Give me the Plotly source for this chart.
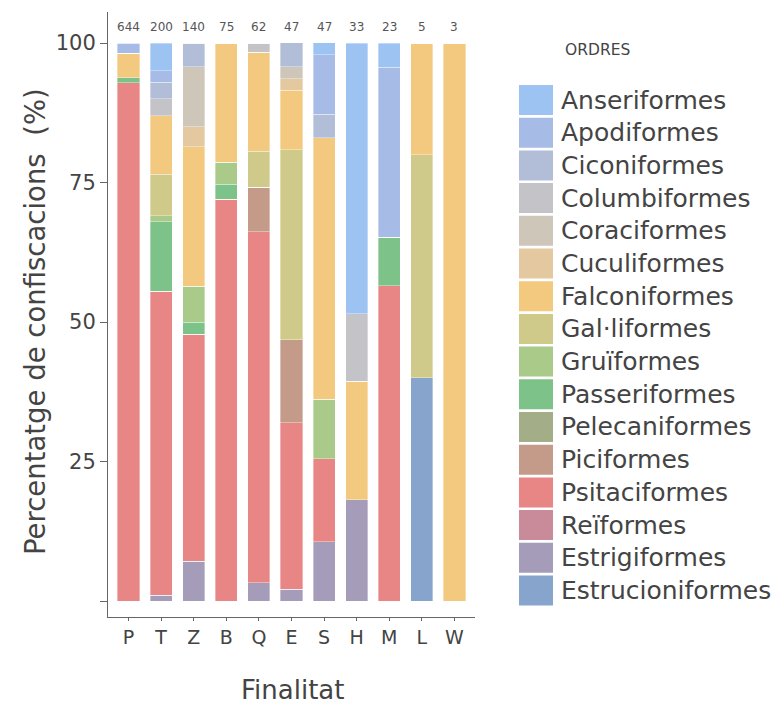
import plotly.graph_objects as go

categories = ["P", "T", "Z", "B", "Q", "E", "S", "H", "M", "L", "W"]
counts = [644, 200, 140, 75, 62, 47, 47, 33, 23, 5, 3]

# legend order (top to bottom)
orders = ["Anseriformes", "Apodiformes", "Ciconiformes", "Columbiformes", "Coraciformes",
          "Cuculiformes", "Falconiformes", "Gal·liformes", "Gruïformes", "Passeriformes",
          "Pelecaniformes", "Piciformes", "Psitaciformes", "Reïformes", "Estrigiformes",
          "Estrucioniformes"]

colors = ["#9dc3f2", "#a6bce6", "#b2bdd8", "#c3c3c8", "#cfc6ba", "#e4c9a0", "#f3c97f",
          "#cfc98a", "#a9ca88", "#7cc289", "#a3ad88", "#c49a88", "#e88686", "#c98b99",
          "#a49cb8", "#87a5cc"]

# percentages per category            P      T      Z      B      Q      E      S      H      M      L    W
anseriformes     = [0,     5.0,   0,     0,     0,     0,     2.13,  48.48, 4.35,  0,   0]
apodiformes      = [1.86,  2.0,   0,     0,     0,     0,     10.64, 0,     30.43, 0,   0]
ciconiformes     = [0,     3.0,   4.29,  0,     0,     4.26,  4.26,  0,     0,     0,   0]
columbiformes    = [0,     3.0,   0,     0,     1.61,  0,     0,     12.12, 0,     0,   0]
coraciformes     = [0,     0,     10.71, 0,     0,     2.13,  0,     0,     0,     0,   0]
cuculiformes     = [0,     0,     3.57,  0,     0,     2.13,  0,     0,     0,     0,   0]
falconiformes    = [4.35,  10.5,  25.0,  21.33, 17.74, 10.64, 46.81, 21.21, 0,     20,  100]
galliformes      = [0,     7.5,   0,     0,     6.45,  34.04, 0,     0,     0,     40,  0]
gruiformes       = [0,     1.0,   6.43,  4.0,   0,     0,     10.64, 0,     0,     0,   0]
passeriformes    = [0.93,  12.5,  2.14,  2.67,  0,     0,     0,     0,     8.70,  0,   0]
pelecaniformes   = [0,     0,     0,     0,     0,     0,     0,     0,     0,     0,   0]
piciformes       = [0,     0,     0,     0,     8.06,  14.89, 0,     0,     0,     0,   0]
psitaciformes    = [92.86, 54.5,  40.71, 72.0,  62.9,  29.79, 14.89, 0,     56.52, 0,   0]
reiformes        = [0,     0,     0,     0,     0,     0,     0,     0,     0,     0,   0]
estrigiformes    = [0,     1.0,   7.14,  0,     3.23,  2.13,  10.64, 18.18, 0,     0,   0]
estrucioniformes = [0,     0,     0,     0,     0,     0,     0,     0,     0,     40,  0]

series = [anseriformes, apodiformes, ciconiformes, columbiformes, coraciformes, cuculiformes,
          falconiformes, galliformes, gruiformes, passeriformes, pelecaniformes, piciformes,
          psitaciformes, reiformes, estrigiformes, estrucioniformes]

y_ticks = [0, 25, 50, 75, 100]
y_tick_labels = ["", "25", "50", "75", "100"]

FONT = "DejaVu Sans"
TXT = "#444444"

fig = go.Figure()
# stack from bottom: reverse legend order
for name, vals, col in reversed(list(zip(orders, series, colors))):
    fig.add_trace(go.Bar(x=categories, y=vals, name=name, marker_color=col,
                         marker_line_color="rgba(255,255,255,0.6)", marker_line_width=0.6,
                         showlegend=False))

for c, n in zip(categories, counts):
    fig.add_annotation(x=c, y=102.8, text=str(n), showarrow=False, xref="x", yref="y",
                       xanchor="center", yanchor="middle",
                       font=dict(family=FONT, size=12, color="#555555"))

# page offset (body margin) and plot area, in figure pixels
OFF = 8
W, H = 780, 726
L, R, T, B = 108 - OFF, 475 - OFF, 12 - OFF, 617 - OFF
PX_PER_PCT = 5.58
ZERO_Y = 601

def px(x):  # screenshot x -> paper
    return (x - OFF - L) / (R - L)

def py(y):  # screenshot y -> paper
    return (B - (y - OFF)) / (B - T)

# custom legend
fig.add_annotation(x=px(597), y=py(50), xref="paper", yref="paper", text="ORDRES",
                   showarrow=False, xanchor="center", yanchor="middle",
                   font=dict(family=FONT, size=15.5, color=TXT))
for i, (name, col) in enumerate(zip(orders, colors)):
    yc = 100 + i * 32.7
    fig.add_shape(type="rect", xref="paper", yref="paper",
                  x0=px(519), x1=px(553), y0=py(yc + 15), y1=py(yc - 15),
                  fillcolor=col, line=dict(width=0))
    fig.add_annotation(x=px(559), y=py(yc), xref="paper", yref="paper", text=name,
                       showarrow=False, xanchor="left", yanchor="middle",
                       font=dict(family=FONT, size=25, color=TXT))

fig.add_annotation(x=px(35), y=py(322), xref="paper", yref="paper",
                   text="Percentatge de confiscacions  (%)", textangle=-90, showarrow=False,
                   xanchor="center", yanchor="middle",
                   font=dict(family=FONT, size=27.5, color=TXT))
fig.add_annotation(x=px(292), y=py(690), xref="paper", yref="paper", text="Finalitat",
                   showarrow=False, xanchor="center", yanchor="middle",
                   font=dict(family=FONT, size=26, color=TXT))

y_lo = -(B + OFF - ZERO_Y) / PX_PER_PCT
y_hi = (ZERO_Y - (T + OFF)) / PX_PER_PCT

fig.update_layout(
    width=W, height=H, barmode="stack", bargap=0.32,
    margin=dict(l=L, r=W - R, t=T, b=H - B),
    plot_bgcolor="white", paper_bgcolor="white",
    font=dict(family=FONT, color=TXT),
    xaxis=dict(range=[-0.63, 10.63], showline=True, linecolor="#666666", linewidth=1,
               ticks="outside", ticklen=3, tickcolor="#666666",
               tickfont=dict(size=19, color=TXT), showgrid=False, zeroline=False),
    yaxis=dict(range=[y_lo, y_hi], showline=True, linecolor="#666666", linewidth=1,
               tickmode="array", tickvals=y_ticks, ticktext=y_tick_labels,
               ticks="outside", ticklen=7, tickcolor="#666666",
               tickfont=dict(size=21, color=TXT), showgrid=False, zeroline=False),
)

fig.write_html("out.html")
